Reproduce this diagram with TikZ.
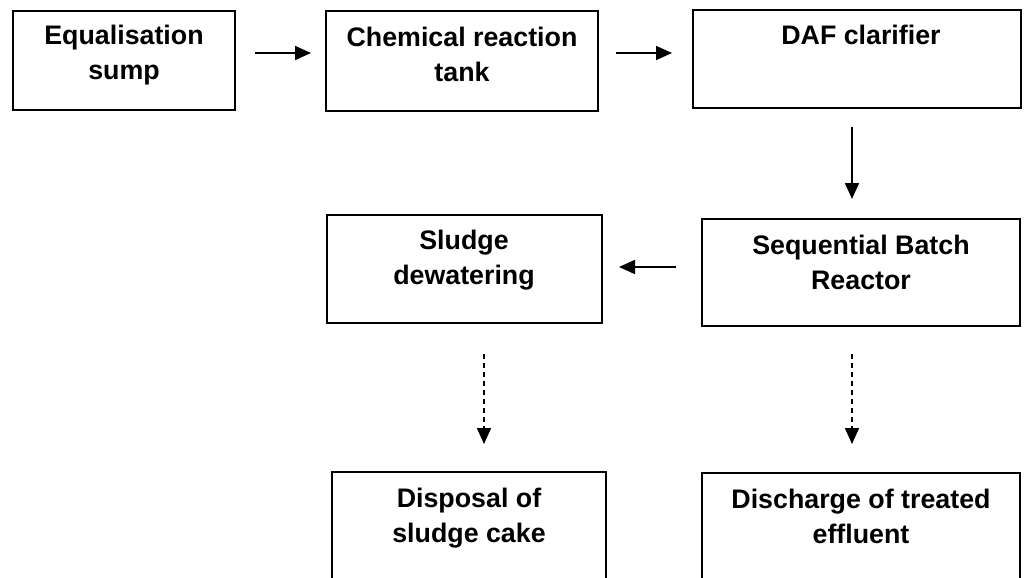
\documentclass[tikz,border=0pt]{standalone}
\usepackage{fontspec}
\setmainfont{Liberation Sans}
\usetikzlibrary{arrows.meta}
\begin{document}
\begin{tikzpicture}[x=0.5pt,y=-0.5pt,
 box/.style={draw, line width=1pt, inner sep=0pt},
 lbl/.style={font=\bfseries\fontsize{13.4}{17.5}\selectfont, align=center, anchor=base, inner sep=0pt},
 flow/.style={line width=0.85pt, -{Triangle[length=8pt,width=7pt]}},
 dflow/.style={flow, dash pattern=on 2.5pt off 2pt}]
\useasboundingbox (0,0) rectangle (1024,578);
\clip (0,0) rectangle (1024,578);
% boxes
\node[box, minimum width=111pt, minimum height=49.5pt] (b1) at (124,60.5) {};
\node[box, minimum width=136pt, minimum height=50pt] (b2) at (462,61) {};
\node[box, minimum width=164pt, minimum height=49pt] (b3) at (857,59) {};
\node[box, minimum width=137.5pt, minimum height=54pt] (b4) at (464.5,269) {};
\node[box, minimum width=159pt, minimum height=53.5pt] (b5) at (861,272.5) {};
\node[box, minimum width=137pt, minimum height=64pt] (b6) at (469,536) {};
\node[box, minimum width=159pt, minimum height=63.5pt] (b7) at (861,536.5) {};
% labels (anchor base = baseline of the last line)
\node[lbl] (t1) at (124,79) {Equalisation\\sump};
\node[lbl] (t2) at (462,82) {Chemical reaction\\tank};
\node[lbl] (t3) at (861,45) {DAF clarifier};
\node[lbl] (t4) at (464,284) {Sludge\\dewatering};
\node[lbl] (t5) at (861,289) {Sequential Batch\\Reactor};
\node[lbl] (t6) at (469,542) {Disposal of\\sludge cake};
\node[lbl] (t7) at (861,543) {Discharge of treated\\effluent};
% connectors
\draw[flow, shorten <=9.5pt, shorten >=7pt] ([yshift=3.75pt]b1.east) -- ([yshift=3.75pt]b1.east -| b2.west);
\draw[flow, shorten <=8.5pt, shorten >=10pt] ([yshift=4pt]b2.east) -- ([yshift=4pt]b2.east -| b3.west);
\draw[flow, shorten <=9pt, shorten >=9.5pt] ([xshift=-2.5pt]b3.south) -- ([xshift=-2.5pt]b3.south |- b5.north);
\draw[flow, shorten <=12.5pt, shorten >=8pt] ([yshift=2.75pt]b5.west) -- ([yshift=2.75pt]b5.west -| b4.east);
\draw[dflow, shorten <=15pt, shorten >=13.5pt] ([xshift=9.75pt]b4.south) -- ([xshift=9.75pt]b4.south |- b6.north);
\draw[dflow, shorten <=13.5pt, shorten >=14pt] ([xshift=-4.5pt]b5.south) -- ([xshift=-4.5pt]b5.south |- b7.north);
\end{tikzpicture}
\end{document}
